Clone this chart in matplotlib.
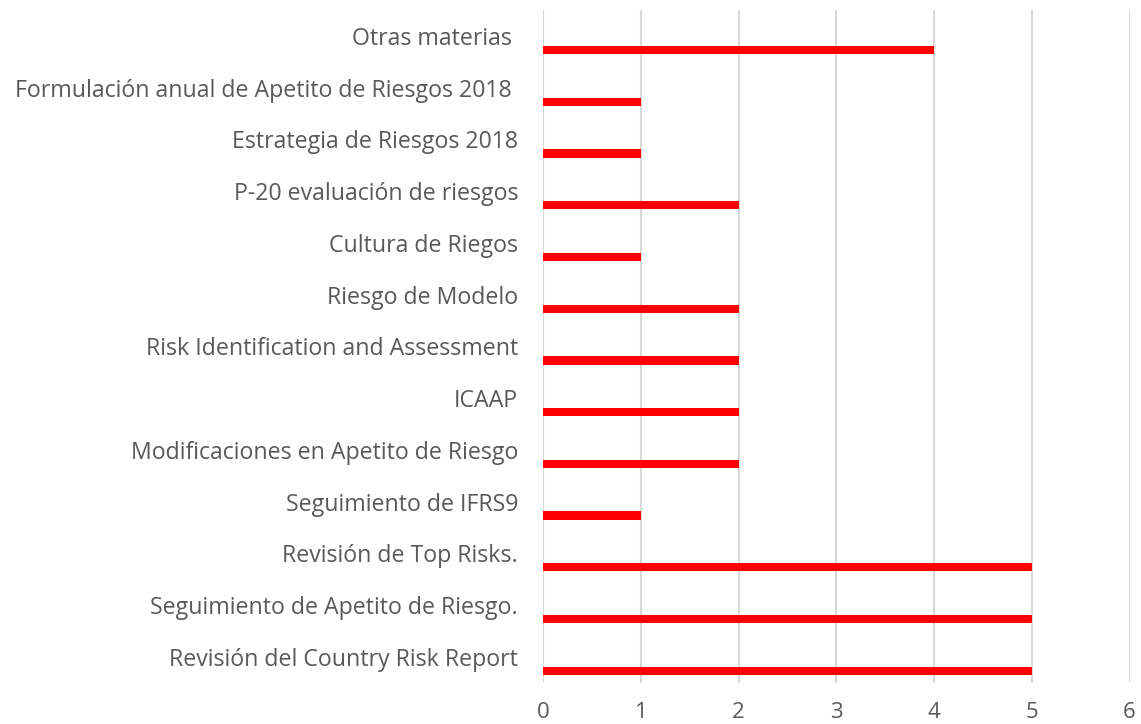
import matplotlib.pyplot as plt
import numpy as np

# categories from bottom to top
categories = [
    "Revisión del Country Risk Report",
    "Seguimiento de Apetito de Riesgo.",
    "Revisión de Top Risks.",
    "Seguimiento de IFRS9",
    "Modificaciones en Apetito de Riesgo",
    "ICAAP",
    "Risk Identification and Assessment",
    "Riesgo de Modelo",
    "Cultura de Riegos",
    "P-20 evaluación de riesgos",
    "Estrategia de Riesgos 2018",
    "Formulación anual de Apetito de Riesgos 2018 ",
    "Otras materias ",
]
values = [5, 5, 5, 1, 2, 2, 2, 2, 1, 2, 1, 1, 4]
x_ticks = [0, 1, 2, 3, 4, 5, 6]

text_color = '#595959'
plt.rcParams['font.family'] = ['Open Sans', 'DejaVu Sans']

fig = plt.figure(figsize=(11.41, 7.24), dpi=100)
ax = fig.add_axes([0.476, 0.057, 0.514, 0.929])

pos = np.arange(len(categories))
ax.barh(pos - 0.27, values, height=0.16, color='#ff0000', zorder=3)

ax.set_xlim(0, 6)
ax.set_ylim(-0.5, len(categories) - 0.5)
ax.set_xticks(x_ticks)
ax.set_yticks(pos)
ax.set_yticklabels(categories)
ax.tick_params(axis='y', length=0, pad=18, labelsize=16.7, labelcolor=text_color)
ax.tick_params(axis='x', length=0, pad=14, labelsize=16, labelcolor=text_color)

ax.grid(axis='x', color='#d9d9d9', linewidth=1.5, zorder=0)
for s in ax.spines.values():
    s.set_visible(False)

fig.savefig('out.png', dpi=100)
